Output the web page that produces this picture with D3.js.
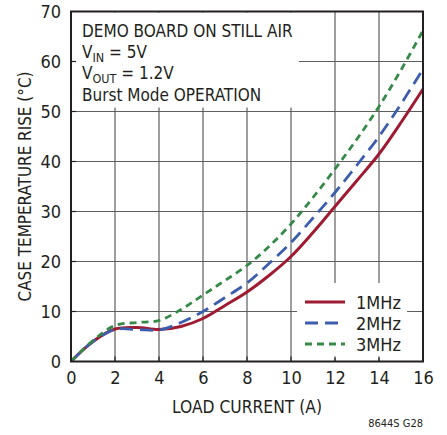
<!DOCTYPE html>
<html>
<head>
<meta charset="utf-8">
<script src="https://cdn.jsdelivr.net/npm/d3@7"></script>
<style>
  body { margin: 0; background: #fff; }
  svg text { font-family: "Liberation Sans Narrow", "DejaVu Sans Condensed", sans-serif; fill: #231f20; }
</style>
</head>
<body>
<svg id="chart" width="447" height="435"></svg>
<script>
// load current (A)
var current = [0, 1, 2, 3, 4, 5, 6, 7, 8, 9, 10, 11, 12, 13, 14, 15, 16];
// case temperature rise (C) per switching frequency
var rise1MHz = [0, 4.0, 6.5, 6.8, 6.4, 7.0, 8.6, 11.2, 13.9, 17.2, 21, 25.8, 31, 36.2, 41.5, 47.8, 54.5];
var rise2MHz = [0, 4.0, 6.4, 6.4, 6.3, 7.8, 10, 12.8, 15.7, 19.6, 23.8, 28.7, 33.8, 39.3, 45, 51.5, 58.5];
var rise3MHz = [0, 4.2, 7.2, 7.8, 8.2, 10.4, 13.3, 16.2, 19.2, 23, 27.5, 32.8, 38.5, 44.5, 51, 58.3, 66.2];

var xTicks = [0, 2, 4, 6, 8, 10, 12, 14, 16];
var yTicks = [0, 10, 20, 30, 40, 50, 60, 70];

var seriesNames = ["1MHz", "2MHz", "3MHz"];
var seriesColors = ["#9e1b32", "#3d5ead", "#368a48"];
var seriesDash = [null, "13,7", "7,5"];
var notes = ["DEMO BOARD ON STILL AIR", "V|IN| = 5V", "V|OUT| = 1.2V", "Burst Mode OPERATION"];

var svg = d3.select("#chart");
var pLeft = 71, pRight = 423, pTop = 11.5, pBottom = 361.5;

var x = d3.scaleLinear().domain([0, 16]).range([pLeft, pRight]);
var y = d3.scaleLinear().domain([0, 70]).range([pBottom, pTop]);

svg.append("rect").attr("width", 447).attr("height", 435).attr("fill", "#fff");

// grid
var grid = svg.append("g").attr("stroke", "#5e5e5e").attr("stroke-width", 1.2);
grid.selectAll(".gx").data(xTicks.slice(1, -1)).enter().append("line")
  .attr("x1", d => x(d)).attr("x2", d => x(d)).attr("y1", pTop).attr("y2", pBottom);
grid.selectAll(".gy").data(yTicks.slice(1, -1)).enter().append("line")
  .attr("x1", pLeft).attr("x2", pRight).attr("y1", d => y(d)).attr("y2", d => y(d));

// boxes that hide the grid behind the text and the legend
svg.append("rect").attr("x", pLeft + 1).attr("y", pTop + 1).attr("width", 227).attr("height", 95).attr("fill", "#fff");
svg.append("rect").attr("x", 297).attr("y", 283).attr("width", 110).attr("height", 75).attr("fill", "#fff");

// inward ticks
var ticks = svg.append("g").attr("stroke", "#231f20").attr("stroke-width", 1.2);
ticks.selectAll(".tx").data(xTicks.slice(1, -1)).enter().append("line")
  .attr("x1", d => x(d)).attr("x2", d => x(d)).attr("y1", pBottom).attr("y2", pBottom - 5);
ticks.selectAll(".ty").data(yTicks.slice(1, -1)).enter().append("line")
  .attr("x1", pLeft).attr("x2", pLeft + 5).attr("y1", d => y(d)).attr("y2", d => y(d));

// curves
svg.append("clipPath").attr("id", "plot").append("rect")
  .attr("x", pLeft).attr("y", pTop).attr("width", pRight - pLeft).attr("height", pBottom - pTop);

var line = d3.line().x(d => x(d[0])).y(d => y(d[1])).curve(d3.curveCatmullRom);
[rise1MHz, rise2MHz, rise3MHz].forEach(function (vals, i) {
  svg.append("path")
    .datum(current.map((c, j) => [c, vals[j]]))
    .attr("clip-path", "url(#plot)")
    .attr("d", line)
    .attr("fill", "none")
    .attr("stroke", seriesColors[i])
    .attr("stroke-width", i == 0 ? 3 : 2.8)
    .attr("stroke-dasharray", seriesDash[i]);
});

// frame
svg.append("rect").attr("x", pLeft).attr("y", pTop).attr("width", pRight - pLeft).attr("height", pBottom - pTop)
  .attr("fill", "none").attr("stroke", "#231f20").attr("stroke-width", 2);

// axes labels
var xAxis = svg.append("g").attr("transform", "translate(0," + pBottom + ")")
  .call(d3.axisBottom(x).tickValues(xTicks).tickSize(0).tickPadding(10));
var yAxis = svg.append("g").attr("transform", "translate(" + pLeft + ",0)")
  .call(d3.axisLeft(y).tickValues(yTicks).tickSize(0).tickPadding(10));
[xAxis, yAxis].forEach(function (a) {
  a.select(".domain").remove();
  a.attr("font-family", null);
  a.selectAll("text").attr("font-size", 18).attr("font-family", null).attr("fill", null);
});

svg.append("text").attr("x", (pLeft + pRight) / 2).attr("y", 413).attr("text-anchor", "middle")
  .attr("font-size", 18).attr("textLength", 150).attr("lengthAdjust", "spacingAndGlyphs")
  .text("LOAD CURRENT (A)");
svg.append("text").attr("transform", "translate(31," + (pTop + pBottom) / 2 + ") rotate(-90)")
  .attr("text-anchor", "middle").attr("font-size", 18).attr("textLength", 230).attr("lengthAdjust", "spacingAndGlyphs")
  .text("CASE TEMPERATURE RISE (°C)");

// notes
notes.forEach(function (n, i) {
  var t = svg.append("text").attr("x", 82).attr("y", 37 + i * 21.2).attr("font-size", 17);
  var parts = n.split("|");
  t.append("tspan").text(parts[0]);
  if (parts.length > 1) {
    t.append("tspan").attr("font-size", 12.5).attr("dy", 3.5).text(parts[1]);
    t.append("tspan").attr("dy", -3.5).text(parts[2]);
  }
});

// legend
seriesNames.forEach(function (name, i) {
  var ly = 302 + i * 21;
  svg.append("line").attr("x1", 305).attr("x2", 345).attr("y1", ly).attr("y2", ly)
    .attr("stroke", seriesColors[i]).attr("stroke-width", 3).attr("stroke-dasharray", seriesDash[i]);
  svg.append("text").attr("x", 356).attr("y", ly + 6.5).attr("font-size", 18).text(name);
});

svg.append("text").attr("x", pRight).attr("y", 427).attr("text-anchor", "end")
  .attr("font-size", 11).text("8644S G28");
</script>
</body>
</html>
